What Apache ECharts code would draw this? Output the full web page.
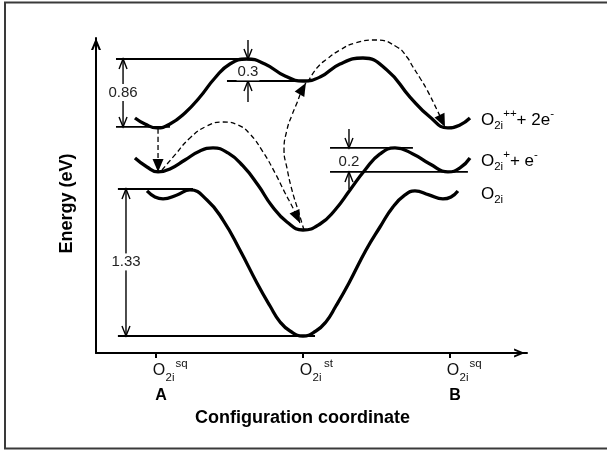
<!DOCTYPE html>
<html>
<head>
<meta charset="utf-8">
<script src="https://cdn.jsdelivr.net/npm/echarts@6/dist/echarts.min.js"></script>
<style>
  html, body { margin: 0; padding: 0; background: #fff; }
  #chart { width: 607px; height: 450px; }
</style>
</head>
<body>
<div id="chart"></div>
<script>
// Configuration coordinate: A = 0, stable site = 1, B = 2
const tickValues = [0, 1, 2];
const tickSites = ['sq', 'st', 'sq'];
const tickEnds = ['A', '', 'B'];

// Potential-energy curves [configuration coordinate, energy (eV)]
const curveNeutral = [
  [-0.061, 1.312], [-0.007, 1.258], [0.048, 1.240], [0.143, 1.276], [0.231, 1.321],
  [0.347, 1.230], [0.456, 1.049], [0.571, 0.778], [0.687, 0.480], [0.776, 0.271],
  [0.844, 0.127], [0.912, 0.045], [1.000, 0.000], [1.088, 0.045], [1.156, 0.127],
  [1.224, 0.271], [1.313, 0.480], [1.429, 0.778], [1.524, 0.986], [1.612, 1.167],
  [1.694, 1.276], [1.762, 1.312], [1.857, 1.276], [1.952, 1.240], [2.007, 1.258],
  [2.054, 1.312]
];
const curvePlus = [
  [-0.143, 1.610], [-0.061, 1.529], [0.014, 1.484], [0.095, 1.511], [0.197, 1.592],
  [0.299, 1.674], [0.388, 1.701], [0.490, 1.656], [0.592, 1.538], [0.694, 1.366],
  [0.789, 1.176], [0.891, 1.031], [1.000, 0.959], [1.116, 1.013], [1.218, 1.140],
  [1.320, 1.321], [1.422, 1.502], [1.524, 1.647], [1.626, 1.701], [1.748, 1.647],
  [1.864, 1.556], [1.986, 1.484], [2.068, 1.520], [2.136, 1.610]
];
const curveDoublePlus = [
  [-0.143, 1.972], [-0.075, 1.918], [0.007, 1.882], [0.095, 1.918], [0.197, 2.018],
  [0.299, 2.162], [0.401, 2.334], [0.503, 2.461], [0.619, 2.506], [0.741, 2.461],
  [0.878, 2.352], [1.000, 2.307], [1.116, 2.343], [1.252, 2.461], [1.408, 2.515],
  [1.571, 2.407], [1.728, 2.162], [1.864, 1.981], [1.986, 1.882], [2.068, 1.909],
  [2.136, 1.972]
];

// Charge-state labels at the right end of each curve
const stateLabelX = 2.211;
const stateLabelY = [1.954, 1.583, 1.285];
const stateCharge = ['++', '+', ''];
const stateCarriers = ['+ 2e', '+ e', ''];

// Reference levels [x start, x end, energy]
const levelLines = [
  [-0.272, 0.619, 2.506],
  [-0.272, 0.095, 1.891],
  [0.483, 1.048, 2.307],
  [1.184, 1.748, 1.701],
  [1.184, 2.122, 1.484],
  [-0.259, 0.252, 1.330],
  [-0.259, 1.082, 0.000]
];

// Gap arrows [x, tail energy, tip energy]
const gapArrows = [
  [-0.224, 2.203, 2.506], [-0.224, 2.203, 1.891],
  [-0.204, 0.670, 1.330], [-0.204, 0.670, 0.000],
  [0.626, 2.678, 2.506], [0.626, 2.117, 2.307],
  [1.313, 1.873, 1.701], [1.313, 1.330, 1.484]
];

// Gap values [x, energy, text]
const gapLabels = [
  [-0.224, 2.203, '0.86'],
  [0.626, 2.389, '0.3'],
  [1.313, 1.574, '0.2'],
  [-0.204, 0.670, '1.33']
];

// Dashed transition paths (the last point is the arrow tip)
const pathDrop = [[0.014, 1.873], [0.014, 1.484]];
const pathRelax = [
  [0.041, 1.502], [0.129, 1.638], [0.231, 1.791], [0.347, 1.900], [0.456, 1.936],
  [0.558, 1.909], [0.639, 1.828], [0.728, 1.665], [0.810, 1.475], [0.878, 1.294],
  [0.932, 1.158], [0.980, 1.022]
];
const pathRise = [
  [1.007, 0.959], [0.966, 1.140], [0.925, 1.321], [0.891, 1.520], [0.871, 1.683],
  [0.891, 1.864], [0.925, 1.999], [0.959, 2.108], [0.993, 2.226], [1.020, 2.289]
];
const pathHop = [
  [1.034, 2.298], [1.095, 2.425], [1.163, 2.506], [1.252, 2.588], [1.354, 2.651],
  [1.503, 2.678], [1.639, 2.615], [1.707, 2.524], [1.748, 2.434], [1.796, 2.334],
  [1.844, 2.226], [1.912, 2.045], [1.966, 1.891]
];

const FONT = '"Liberation Sans", Arial, Helvetica, sans-serif';
const INK = '#000';
// open chevron used as the axis arrow head (tip pointing up)
const CHEVRON = 'path://M0,12 L5,0 L10,12 L7.8,12 L5,5.28 L2.2,12 Z';

const dashedPaths = [pathDrop, pathRelax, pathRise, pathHop];
const arrowTips = dashedPaths.map(function (p) {
  const a = p[p.length - 1], b = p[p.length - 2];
  return [a[0], a[1], b[0], b[1]];
});

function curveSeries(name, data) {
  return {
    name: name, type: 'line', data: data, smooth: 0.5, symbol: 'none',
    lineStyle: { color: INK, width: 3.3 }, z: 3, silent: true
  };
}
function dashedSeries(name, data) {
  return {
    name: name, type: 'line', data: data, smooth: 0.5, symbol: 'none',
    lineStyle: { color: INK, width: 1.3, type: [5, 3] }, z: 2, silent: true
  };
}

const chart = echarts.init(document.getElementById('chart'), null, { renderer: 'canvas' });

const option = {
  animation: false,
  backgroundColor: '#fff',
  textStyle: { fontFamily: FONT },
  graphic: [{
    type: 'rect', silent: true, z: -10,
    shape: { x: 5, y: 2.5, width: 640, height: 446 },
    style: { fill: 'none', stroke: '#3a3a3a', lineWidth: 2 }
  }],
  grid: { left: 96, right: 80, top: 38, bottom: 97, outerBoundsMode: 'none' },
  xAxis: {
    type: 'value', min: -0.408, max: 2.524,
    name: 'Configuration coordinate', nameLocation: 'middle', nameGap: 55,
    nameTextStyle: { fontSize: 18, fontWeight: 'bold', color: INK, fontFamily: FONT, padding: [0, 18, 0, 0] },
    axisLine: {
      onZero: false, lineStyle: { color: INK, width: 2 },
      symbol: ['none', CHEVRON], symbolSize: [9, 15], symbolOffset: [0, -7.5]
    },
    axisTick: { show: true, customValues: tickValues, length: 5, lineStyle: { color: INK, width: 2 } },
    axisLabel: {
      show: true, customValues: tickValues, margin: 5, color: '#111', fontFamily: FONT,
      formatter: function (v) {
        const i = tickValues.indexOf(v);
        let s = '{pad| }{o|O}{sub|2i}{sup|' + tickSites[i] + '}';
        if (tickEnds[i]) s += '\n{pad2| }{ab|' + tickEnds[i] + '}';
        return s;
      },
      rich: {
        pad: { width: 29 },
        o: { fontSize: 16, lineHeight: 26, width: 12, color: '#111', fontFamily: FONT },
        sub: { fontSize: 11.5, lineHeight: 10, width: 10, verticalAlign: 'bottom', color: '#111', fontFamily: FONT },
        sup: { fontSize: 11.5, lineHeight: 10, width: 13, verticalAlign: 'top', color: '#111', fontFamily: FONT },
        pad2: { width: 10 },
        ab: { fontSize: 16, fontWeight: 'bold', lineHeight: 24, color: INK, fontFamily: FONT }
      }
    },
    splitLine: { show: false }
  },
  yAxis: {
    type: 'value', min: -0.154, max: 2.696,
    name: 'Energy (eV)', nameLocation: 'middle', nameRotate: 90, nameGap: 20,
    nameTextStyle: { fontSize: 18, fontWeight: 'bold', color: INK, fontFamily: FONT, padding: [0, 16, 0, 0] },
    axisLine: {
      onZero: false, lineStyle: { color: INK, width: 2 },
      symbol: ['none', CHEVRON], symbolSize: [10, 12], symbolOffset: [0, -6]
    },
    axisTick: { show: false },
    axisLabel: { show: false },
    splitLine: { show: false }
  },
  series: [
    curveSeries('O2i', curveNeutral),
    curveSeries('O2i+', curvePlus),
    curveSeries('O2i++', curveDoublePlus),
    dashedSeries('drop', pathDrop),
    dashedSeries('relax', pathRelax),
    dashedSeries('rise', pathRise),
    dashedSeries('hop', pathHop),
    {
      name: 'levels', type: 'custom', coordinateSystem: 'cartesian2d', silent: true, z: 4,
      data: levelLines, encode: { x: [0, 1], y: 2 },
      renderItem: function (params, api) {
        const a = api.coord([api.value(0), api.value(2)]);
        const b = api.coord([api.value(1), api.value(2)]);
        return { type: 'line', shape: { x1: a[0], y1: a[1], x2: b[0], y2: b[1] },
                 style: { stroke: INK, lineWidth: 1.8 } };
      }
    },
    {
      name: 'gaps', type: 'custom', coordinateSystem: 'cartesian2d', silent: true, z: 4,
      data: gapArrows, encode: { x: 0, y: [1, 2] },
      renderItem: function (params, api) {
        const tail = api.coord([api.value(0), api.value(1)]);
        const tip = api.coord([api.value(0), api.value(2)]);
        const dir = tip[1] > tail[1] ? 1 : -1;
        const len = 10, half = 4;
        return {
          type: 'group',
          children: [
            { type: 'line', shape: { x1: tail[0], y1: tail[1], x2: tip[0], y2: tip[1] },
              style: { stroke: INK, lineWidth: 1.4 } },
            { type: 'polyline',
              shape: { points: [[tip[0] - half, tip[1] - dir * len], [tip[0], tip[1]], [tip[0] + half, tip[1] - dir * len]] },
              style: { stroke: INK, lineWidth: 1.4, fill: 'none' } }
          ]
        };
      }
    },
    {
      name: 'arrowheads', type: 'custom', coordinateSystem: 'cartesian2d', silent: true, z: 5,
      data: arrowTips, encode: { x: [0, 2], y: [1, 3] },
      renderItem: function (params, api) {
        const tip = api.coord([api.value(0), api.value(1)]);
        const prev = api.coord([api.value(2), api.value(3)]);
        let dx = tip[0] - prev[0], dy = tip[1] - prev[1];
        const d = Math.hypot(dx, dy) || 1;
        dx /= d; dy /= d;
        const len = 13, half = 5.5;
        const bx = tip[0] - dx * len, by = tip[1] - dy * len;
        return { type: 'polygon',
                 shape: { points: [[tip[0], tip[1]], [bx - dy * half, by + dx * half], [bx + dy * half, by - dx * half]] },
                 style: { fill: INK } };
      }
    },
    {
      name: 'gapValues', type: 'custom', coordinateSystem: 'cartesian2d', silent: true, z: 6,
      data: gapLabels.map(function (g) { return [g[0], g[1]]; }), encode: { x: 0, y: 1 },
      renderItem: function (params, api) {
        const p = api.coord([api.value(0), api.value(1)]);
        return { type: 'text', x: p[0], y: p[1],
                 style: { text: gapLabels[params.dataIndex][2], fill: '#222', font: '15px ' + FONT,
                          align: 'center', verticalAlign: 'middle', backgroundColor: '#fff', padding: [1, 1] } };
      }
    },
    {
      name: 'states', type: 'custom', coordinateSystem: 'cartesian2d', silent: true, z: 6,
      data: stateLabelY.map(function (y) { return [stateLabelX, y]; }), encode: { x: 0, y: 1 },
      renderItem: function (params, api) {
        const i = params.dataIndex;
        const p = api.coord([api.value(0), api.value(1)]);
        let s = '{o|O}{sub|2i}';
        if (stateCharge[i]) s += '{sup|' + stateCharge[i] + '}{t|' + stateCarriers[i] + '}{sup|-}';
        return { type: 'text', x: p[0], y: p[1],
                 style: {
                   text: s, align: 'left', verticalAlign: 'middle', fill: INK, font: '17px ' + FONT,
                   rich: {
                     o: { fontSize: 17, fontFamily: FONT, lineHeight: 24, fill: INK },
                     t: { fontSize: 17, fontFamily: FONT, lineHeight: 24, fill: INK },
                     sub: { fontSize: 11.5, fontFamily: FONT, lineHeight: 12, verticalAlign: 'bottom', fill: INK },
                     sup: { fontSize: 11.5, fontFamily: FONT, lineHeight: 8, verticalAlign: 'top', fill: INK }
                   }
                 } };
      }
    }
  ]
};

chart.setOption(option);
</script>
</body>
</html>
